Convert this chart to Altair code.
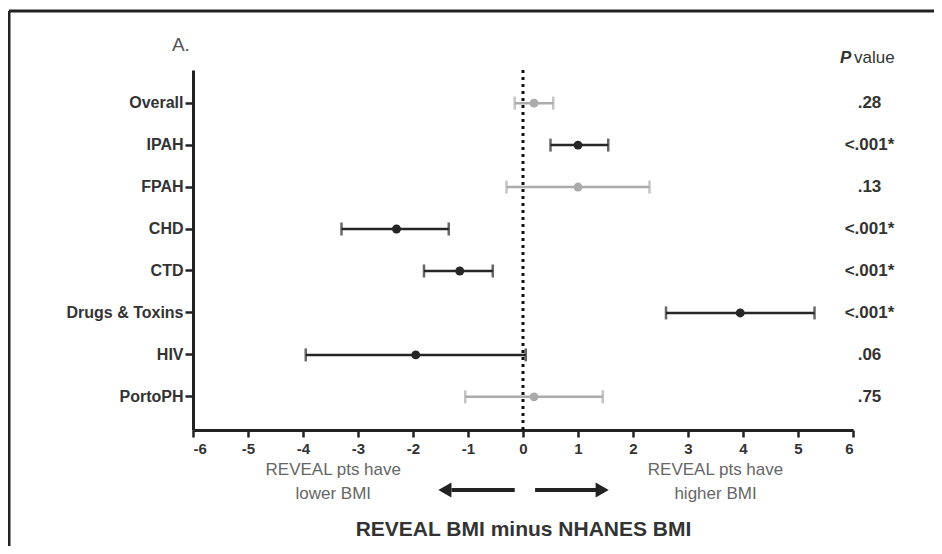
import altair as alt
import pandas as pd

# ---- data ----
groups = ["Overall", "IPAH", "FPAH", "CHD", "CTD", "Drugs & Toxins", "HIV", "PortoPH"]
estimates = [0.2, 1.0, 1.0, -2.3, -1.15, 3.95, -1.95, 0.2]
ci_low = [-0.15, 0.5, -0.3, -3.3, -1.8, 2.6, -3.95, -1.05]
ci_high = [0.55, 1.55, 2.3, -1.35, -0.55, 5.3, 0.05, 1.45]
p_values = [".28", "<.001*", ".13", "<.001*", "<.001*", "<.001*", ".06", ".75"]
shade = ["light", "dark", "light", "dark", "dark", "dark", "dark", "light"]
x_ticks = [-6, -5.5, -5, -4.5, -4, -3.5, -3, -2.5, -2, -1.5, -1, -0.5, 0,
           0.5, 1, 1.5, 2, 2.5, 3, 3.5, 4, 4.5, 5, 5.5, 6]

df = pd.DataFrame({
    "group": groups, "est": estimates, "lo": ci_low, "hi": ci_high,
    "p": p_values, "shade": shade,
})

FONT = "Liberation Sans Narrow, Liberation Sans, Arial, sans-serif"
W, H = 660, 360

xs = alt.Scale(domain=[-6, 6], nice=False, zero=False)
ys = alt.Scale(domain=groups, padding=0.58)
cs = alt.Scale(domain=["dark", "light"], range=["#262626", "#ababab"])

x_axis = alt.Axis(
    values=x_ticks, grid=False, domainWidth=3, domainColor="#222",
    tickColor="#222", tickWidth=2.5, tickSize=7,
    labelExpr="datum.value % 1 == 0 ? '' + datum.value : ''",
    labelFont=FONT, labelFontSize=15, labelFontWeight="bold", labelColor="#333",
    labelPadding=4,
    title="REVEAL BMI minus NHANES BMI", titleFont=FONT, titleFontSize=21,
    titleFontWeight="bold", titleColor="#333", titlePadding=62,
)
y_axis = alt.Axis(
    title=None, grid=False, domainWidth=3, domainColor="#222",
    tickColor="#222", tickWidth=2.5, tickSize=8,
    labelFont=FONT, labelFontSize=16, labelFontWeight="bold", labelColor="#333",
    labelPadding=2,
)

Y = alt.Y("group:N", scale=ys, axis=y_axis, sort=groups)
C = alt.Color("shade:N", scale=cs, legend=None)
base = alt.Chart(df)

bars = base.mark_rule(strokeWidth=2.5).encode(
    x=alt.X("lo:Q", scale=xs, axis=x_axis), x2="hi:Q", y=Y, color=C)
cap_lo = base.mark_tick(thickness=2.5, size=13, orient="vertical").encode(
    x=alt.X("lo:Q", scale=xs), y=Y, color=C)
cap_hi = base.mark_tick(thickness=2.5, size=13, orient="vertical").encode(
    x=alt.X("hi:Q", scale=xs), y=Y, color=C)
pts = base.mark_point(filled=True, size=80, opacity=1).encode(
    x=alt.X("est:Q", scale=xs), y=Y, color=C)
zero = alt.Chart(pd.DataFrame({"z": [0]})).mark_rule(
    strokeDash=[3, 4], strokeWidth=3, color="#111"
).encode(x=alt.X("z:Q", scale=xs))

ptext = base.mark_text(font=FONT, fontSize=17, fontWeight="bold", color="#333",
                       align="center", baseline="middle").encode(
    x=alt.datum(6.3, scale=xs), y=Y, text="p:N")

# header / annotations
p_italic = alt.Chart(pd.DataFrame({"t": ["P"]})).mark_text(
    font=FONT, fontSize=17, fontStyle="italic", fontWeight="bold", color="#333",
    align="right", baseline="middle").encode(
    x=alt.datum(5.97, scale=xs), y=alt.value(-12), text="t:N")
p_rest = alt.Chart(pd.DataFrame({"t": ["value"]})).mark_text(
    font=FONT, fontSize=17, color="#333", align="left", baseline="middle").encode(
    x=alt.datum(6.02, scale=xs), y=alt.value(-12), text="t:N")
panel = alt.Chart(pd.DataFrame({"t": ["A."]})).mark_text(
    font=FONT, fontSize=19, color="#555", align="center", baseline="middle").encode(
    x=alt.datum(-6.22, scale=xs), y=alt.value(-25), text="t:N")

ann_top = ["REVEAL pts have", "REVEAL pts have"]
ann_bottom = ["lower BMI", "higher BMI"]
ann_x = [-3.45, 3.5]
ann_df = pd.DataFrame({"t1": ann_top, "t2": ann_bottom, "x": ann_x})
ann1 = alt.Chart(ann_df).mark_text(
    font=FONT, fontSize=17, color="#666", align="center", baseline="middle").encode(
    x=alt.X("x:Q", scale=xs), y=alt.value(400), text="t1:N")
ann2 = alt.Chart(ann_df).mark_text(
    font=FONT, fontSize=17, color="#666", align="center", baseline="middle").encode(
    x=alt.X("x:Q", scale=xs), y=alt.value(424), text="t2:N")

arrow_start = [-0.15, 0.22]
arrow_end = [-1.3, 1.33]
arrow_head = [-1.42, 1.44]
arrow_shape = ["triangle-left", "triangle-right"]
arr_df = pd.DataFrame({"s": arrow_start, "e": arrow_end, "h": arrow_head, "shape": arrow_shape})
shafts = alt.Chart(arr_df).mark_rule(strokeWidth=4, color="#222").encode(
    x=alt.X("s:Q", scale=xs), x2="e:Q", y=alt.value(420))
heads = alt.Chart(arr_df).mark_point(filled=True, size=230, color="#222", opacity=1).encode(
    x=alt.X("h:Q", scale=xs), y=alt.value(420),
    shape=alt.Shape("shape:N", scale=None))

frame_top = alt.Chart(pd.DataFrame({"a": [0]})).mark_rule(strokeWidth=3, color="#222").encode(
    x=alt.value(-184), x2=alt.value(W + 81), y=alt.value(-59))
frame_left = alt.Chart(pd.DataFrame({"a": [0]})).mark_rule(strokeWidth=3, color="#222").encode(
    x=alt.value(-184), y=alt.value(-59), y2=alt.value(H + 116))

chart = alt.layer(
    zero, bars, cap_lo, cap_hi, pts, ptext, p_italic, p_rest, panel, ann1, ann2,
    shafts, heads, frame_top, frame_left,
).properties(
    width=W, height=H,
    background="white",
    autosize=alt.AutoSizeParams(type="none"),
    padding={"left": 185, "top": 62, "right": 81, "bottom": 116},
).configure_view(strokeWidth=0)

chart.save("out.html", embed_options={"renderer": "svg", "actions": False})
